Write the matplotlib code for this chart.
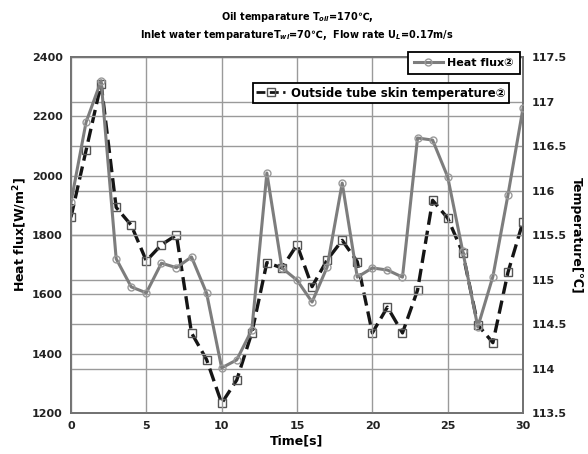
import matplotlib
matplotlib.use("Agg")
import matplotlib.pyplot as plt
from matplotlib.lines import Line2D

plt.rcParams['font.family'] = ['DejaVu Sans', 'Noto Sans CJK JP']
plt.rcParams['font.weight'] = 'bold'

time_s = list(range(0, 31))
heat_flux = [1910, 2180, 2320, 1720, 1625, 1605, 1705, 1690, 1726, 1604,
             1352, 1379, 1480, 2009, 1689, 1648, 1574, 1692, 1975, 1658,
             1689, 1682, 1658, 2127, 2120, 1996, 1745, 1490, 1660, 1935,
             2228]
skin_temp = [115.70, 116.45, 117.20, 115.81, 115.61, 115.21, 115.39, 115.50,
             114.40, 114.10, 113.61, 113.87, 114.40, 115.19, 115.13, 115.39,
             114.92, 115.22, 115.44, 115.20, 114.40, 114.69, 114.40, 114.88,
             115.89, 115.69, 115.30, 114.49, 114.29, 115.08, 115.65]

x_ticks = [0, 5, 10, 15, 20, 25, 30]
left_ticks = [1200, 1400, 1600, 1800, 2000, 2200, 2400]
right_ticks = [113.5, 114, 114.5, 115, 115.5, 116, 116.5, 117, 117.5]
right_labels = ["113.5", "114", "114.5", "115", "115.5", "116", "116.5", "117", "117.5"]

fig = plt.figure(figsize=(5.88, 4.54), dpi=100)
ax = fig.add_axes([0.1207, 0.0903, 0.7688, 0.7841])
ax2 = ax.twinx()

grid_c = "#9a9a9a"
ax.set_xlim(0, 30)
ax.set_ylim(1200, 2400)
ax2.set_ylim(113.5, 117.5)
ax.set_xticks(x_ticks)
ax.set_yticks(left_ticks)
ax2.set_yticks(right_ticks)
ax2.set_yticklabels(right_labels)

ax.grid(True, color=grid_c, lw=1.0)
ax2.grid(True, axis='y', color=grid_c, lw=1.0)
ax.set_axisbelow(True)
ax2.set_axisbelow(True)

for a in (ax, ax2):
    for s in a.spines.values():
        s.set_color("#707070")
        s.set_linewidth(1.2)
    a.tick_params(length=0, labelsize=8, colors="#222222", pad=6)

ax2.plot(time_s, skin_temp, color="#151515", lw=2.4, ls=(0, (4.0, 1.8)),
         marker='s', ms=6, mfc='none', mec="#555555", mew=1.0, zorder=3)
ax.plot(time_s, heat_flux, color="#7d7d7d", lw=2.2, ls='-',
        marker='o', ms=5, mfc='none', mec="#9a9a9a", mew=1.0, zorder=4)
ax.set_zorder(ax2.get_zorder() + 1)
ax.patch.set_visible(False)

ax.set_xlabel("Time[s]", fontsize=9, fontweight='bold', labelpad=2)
ax.set_ylabel("Heat flux[W/m$^2$]", fontsize=9, fontweight='bold', labelpad=2)
ax2.set_ylabel("Temperature[℃]", fontsize=9, fontweight='bold', rotation=270,
               labelpad=12)

fig.text(0.505, 0.963, "Oil temparature T$_{oil}$=170℃,", ha='center',
         va='center', fontsize=7, fontweight='bold')
fig.text(0.505, 0.923,
         "Inlet water temparatureT$_{wi}$=70℃,  Flow rate U$_{L}$=0.17m/s",
         ha='center', va='center', fontsize=7, fontweight='bold')

h1 = Line2D([], [], color="#7d7d7d", lw=2.2, marker='o', ms=5, mfc='none',
            mec="#9a9a9a")
h2 = Line2D([], [], color="#151515", lw=2.0, ls=(0, (3.2, 1.6)), marker='s',
            ms=6, mfc='none', mec="#555555")
leg1 = ax.legend([h1], ["Heat flux②"], loc='upper right',
                 bbox_to_anchor=(0.993, 1.014), fancybox=False, framealpha=1,
                 edgecolor='black', fontsize=8, borderpad=0.55,
                 handlelength=2.6, handletextpad=0.4, borderaxespad=0)
leg1.get_frame().set_linewidth(1.3)
ax.add_artist(leg1)
leg2 = ax.legend([h2], ["Outside tube skin temperature②"], loc='upper right',
                 bbox_to_anchor=(0.969, 0.927), fancybox=False, framealpha=1,
                 edgecolor='black', fontsize=8.5, borderpad=0.3,
                 handlelength=2.4, handletextpad=0.5, borderaxespad=0)
leg2.get_frame().set_linewidth(1.3)

fig.savefig("out.png", dpi=100)
